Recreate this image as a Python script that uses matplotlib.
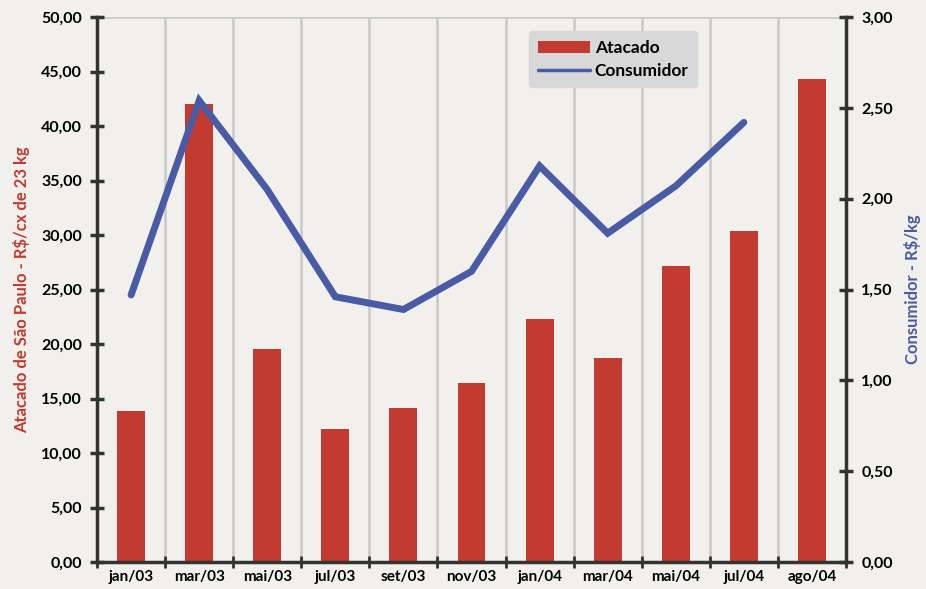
import matplotlib.pyplot as plt
import numpy as np

meses = ['jan/03', 'mar/03', 'mai/03', 'jul/03', 'set/03', 'nov/03',
         'jan/04', 'mar/04', 'mai/04', 'jul/04', 'ago/04']
atacado = [13.85, 42.0, 19.5, 12.2, 14.1, 16.4, 22.3, 18.7, 27.2, 30.4, 44.3]
consumidor = [1.47, 2.54, 2.05, 1.46, 1.39, 1.60, 2.18, 1.81, 2.07, 2.42]

plt.rcParams['font.family'] = ['Lato', 'DejaVu Sans']
plt.rcParams['font.weight'] = 'bold'
plt.rcParams['axes.labelweight'] = 'bold'

bar_cor = '#c23a30'
linha_cor = '#4a5ba6'
eixo_cor = '#333333'

fig = plt.figure(figsize=(9.26, 5.89), dpi=100)
fig.patch.set_facecolor('#f1f0ec')
ax = fig.add_axes([0.1048, 0.0458, 0.8088, 0.9253])
ax.set_facecolor('#f1f0ec')

x = np.arange(len(meses))
b = ax.bar(x, atacado, width=0.41, color=bar_cor, zorder=2, label='Atacado')
ax.set_xlim(-0.5, len(meses) - 0.5)
ax.set_ylim(0, 50)
ax.set_yticks(np.arange(0, 51, 5))
ax.set_yticklabels([('%.2f' % v).replace('.', ',') for v in np.arange(0, 51, 5)])

# linhas de grade entre as categorias
for k in range(1, len(meses)):
    ax.axvline(k - 0.5, color='#c8c8c8', lw=1.8, zorder=1)
ax.axhline(50, color='#c8c8c8', lw=1.8, zorder=1)

ax.set_xticks(x)
ax.set_xticklabels(meses, fontsize=11)
ax.tick_params(axis='x', length=0, pad=6)
ax.set_xticks(np.arange(-0.5, len(meses)), minor=True)
ax.tick_params(axis='x', which='minor', direction='inout', length=8, width=2, color=eixo_cor)
ax.tick_params(axis='y', direction='inout', length=10, width=2.5, color=eixo_cor, labelsize=11.5, pad=6)

for s in ['top', 'right']:
    ax.spines[s].set_visible(False)
for s in ['left', 'bottom']:
    ax.spines[s].set_color(eixo_cor)
    ax.spines[s].set_linewidth(2.5)

ax.set_ylabel('Atacado de São Paulo - R$/cx de 23 kg', color=bar_cor, fontsize=12, labelpad=8)

ax2 = ax.twinx()
l, = ax2.plot(x[:len(consumidor)], consumidor, color=linha_cor, lw=5, zorder=3,
              solid_joinstyle='miter', solid_capstyle='round', label='Consumidor')
ax2.set_ylim(0, 3)
ax2.set_yticks(np.arange(0, 3.01, 0.5))
ax2.set_yticklabels([('%.2f' % v).replace('.', ',') for v in np.arange(0, 3.01, 0.5)])
ax2.tick_params(axis='y', direction='inout', length=10, width=2.5, color=eixo_cor, labelsize=11.5, pad=6)
for s in ['top', 'left', 'bottom']:
    ax2.spines[s].set_visible(False)
ax2.spines['right'].set_color(eixo_cor)
ax2.spines['right'].set_linewidth(2.5)
ax2.set_ylabel('Consumidor - R$/kg', color=linha_cor, fontsize=12, labelpad=8)

leg = ax2.legend([b, l], ['Atacado', 'Consumidor'], loc='upper left',
                 bbox_to_anchor=(0.565, 0.99), fontsize=12.5, frameon=True,
                 fancybox=True, handlelength=3, handletextpad=0.3, borderpad=0.5,
                 labelspacing=0.4)
leg.get_frame().set_facecolor('#d8d8d8')
leg.get_frame().set_edgecolor('#d8d8d8')
leg.get_frame().set_alpha(1)
leg.legend_handles[1].set_linewidth(2.5)

fig.savefig('out.png', dpi=100, facecolor=fig.get_facecolor())
